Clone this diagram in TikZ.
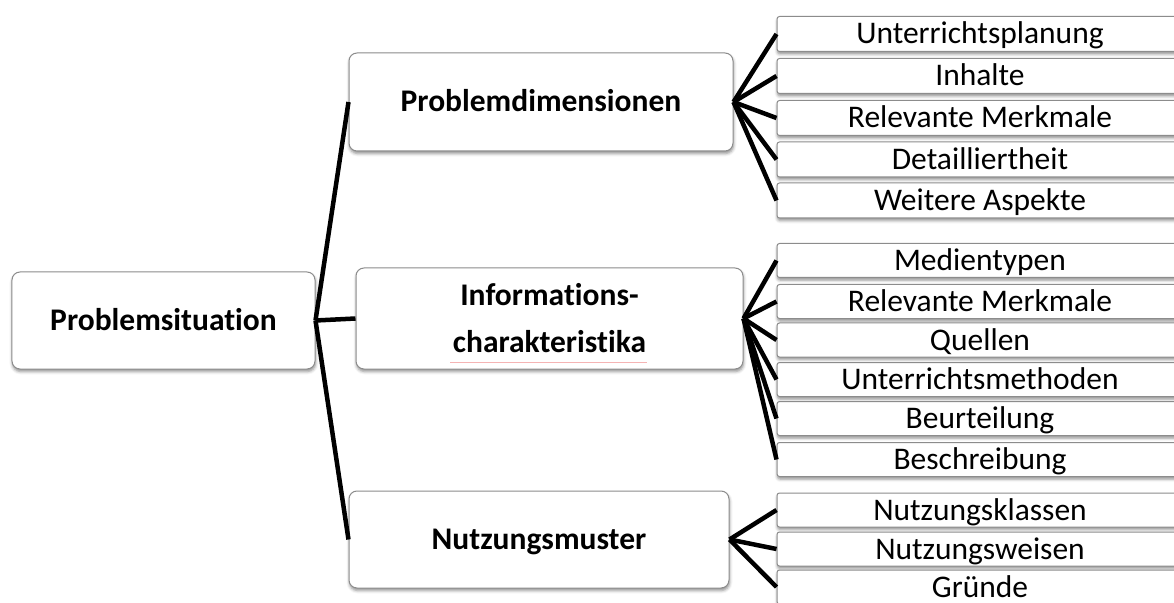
\documentclass[tikz,border=0pt]{standalone}
\usepackage{fontspec}
\setmainfont{Carlito}[Ligatures=NoCommon]
\usetikzlibrary{shadows.blur}

\definecolor{boxgray}{RGB}{140,140,140}
\definecolor{spellred}{RGB}{245,180,180}

\tikzset{
  boxshadow/.style={blur shadow={shadow xshift=0.5bp, shadow yshift=-2.5bp,
      shadow blur radius=3bp, shadow opacity=45}},
  mainbox/.style={draw=boxgray, line width=1bp, rounded corners=8bp, fill=white,
      boxshadow, inner sep=0pt, align=center,
      font=\bfseries\fontsize{31.5bp}{47bp}\selectfont},
  oneline/.style={text height=20bp, text depth=0pt},
  itembox/.style={draw=boxgray, line width=1bp, rounded corners=2.5bp, fill=white,
      boxshadow, inner sep=0pt, minimum width=406bp, minimum height=34bp,
      text height=20bp, text depth=0pt,
      font=\fontsize{31.5bp}{38bp}\selectfont},
  link/.style={line width=4.5bp, black},
}

\begin{document}
\begin{tikzpicture}[x=1bp, y=-1bp]
  \useasboundingbox (0,0) rectangle (1174,603);

  % main boxes
  \node[mainbox, oneline, minimum width=303bp, minimum height=97bp] (root) at (163.5,320.5) {Problemsituation};
  \node[mainbox, oneline, minimum width=384bp, minimum height=98bp] (pd) at (541,102) {Problemdimensionen};
  \node[mainbox, minimum width=387bp, minimum height=101bp] (ic) at (549.5,318.5) {Informations-\\charakteristika};
  \node[mainbox, oneline, minimum width=380bp, minimum height=97bp] (nm) at (539,539.5) {Nutzungsmuster};

  % spell-check underline
  \draw[spellred, line width=1bp] (450,362) -- (647,362);

  % items: problem dimensions
  \node[itembox, minimum height=35bp] (a1) at (980,34) {Unterrichtsplanung};
  \node[itembox, minimum height=35bp] (a2) at (980,76) {Inhalte};
  \node[itembox, minimum height=35bp] (a3) at (980,118) {Relevante Merkmale};
  \node[itembox, minimum height=35bp] (a4) at (980,159.5) {Detailliertheit};
  \node[itembox, minimum height=35bp] (a5) at (980,200.5) {Weitere Aspekte};

  % items: information characteristics
  \node[itembox] (b1) at (980,260.5) {Medientypen};
  \node[itembox] (b2) at (980,301.5) {Relevante Merkmale};
  \node[itembox] (b3) at (980,340) {Quellen};
  \node[itembox] (b4) at (980,379.5) {Unterrichtsmethoden};
  \node[itembox] (b5) at (980,418.5) {Beurteilung};
  \node[itembox] (b6) at (980,459.5) {Beschreibung};

  % items: usage patterns
  \node[itembox] (c1) at (980,510) {Nutzungsklassen};
  \node[itembox] (c2) at (980,549) {Nutzungsweisen};
  \node[itembox] (c3) at (980,587) {Gründe};

  % connectors from the root
  \foreach \t in {pd,ic,nm}
    \draw[link] (root.east) -- (\t.west);

  % fans to the items
  \foreach \t in {a1,a2,a3,a4,a5}
    \draw[link] (pd.east) -- (\t.west);
  \foreach \t in {b1,b2,b3,b4,b5,b6}
    \draw[link] (ic.east) -- (\t.west);
  \foreach \t in {c1,c2,c3}
    \draw[link] (nm.east) -- (\t.west);
\end{tikzpicture}
\end{document}
